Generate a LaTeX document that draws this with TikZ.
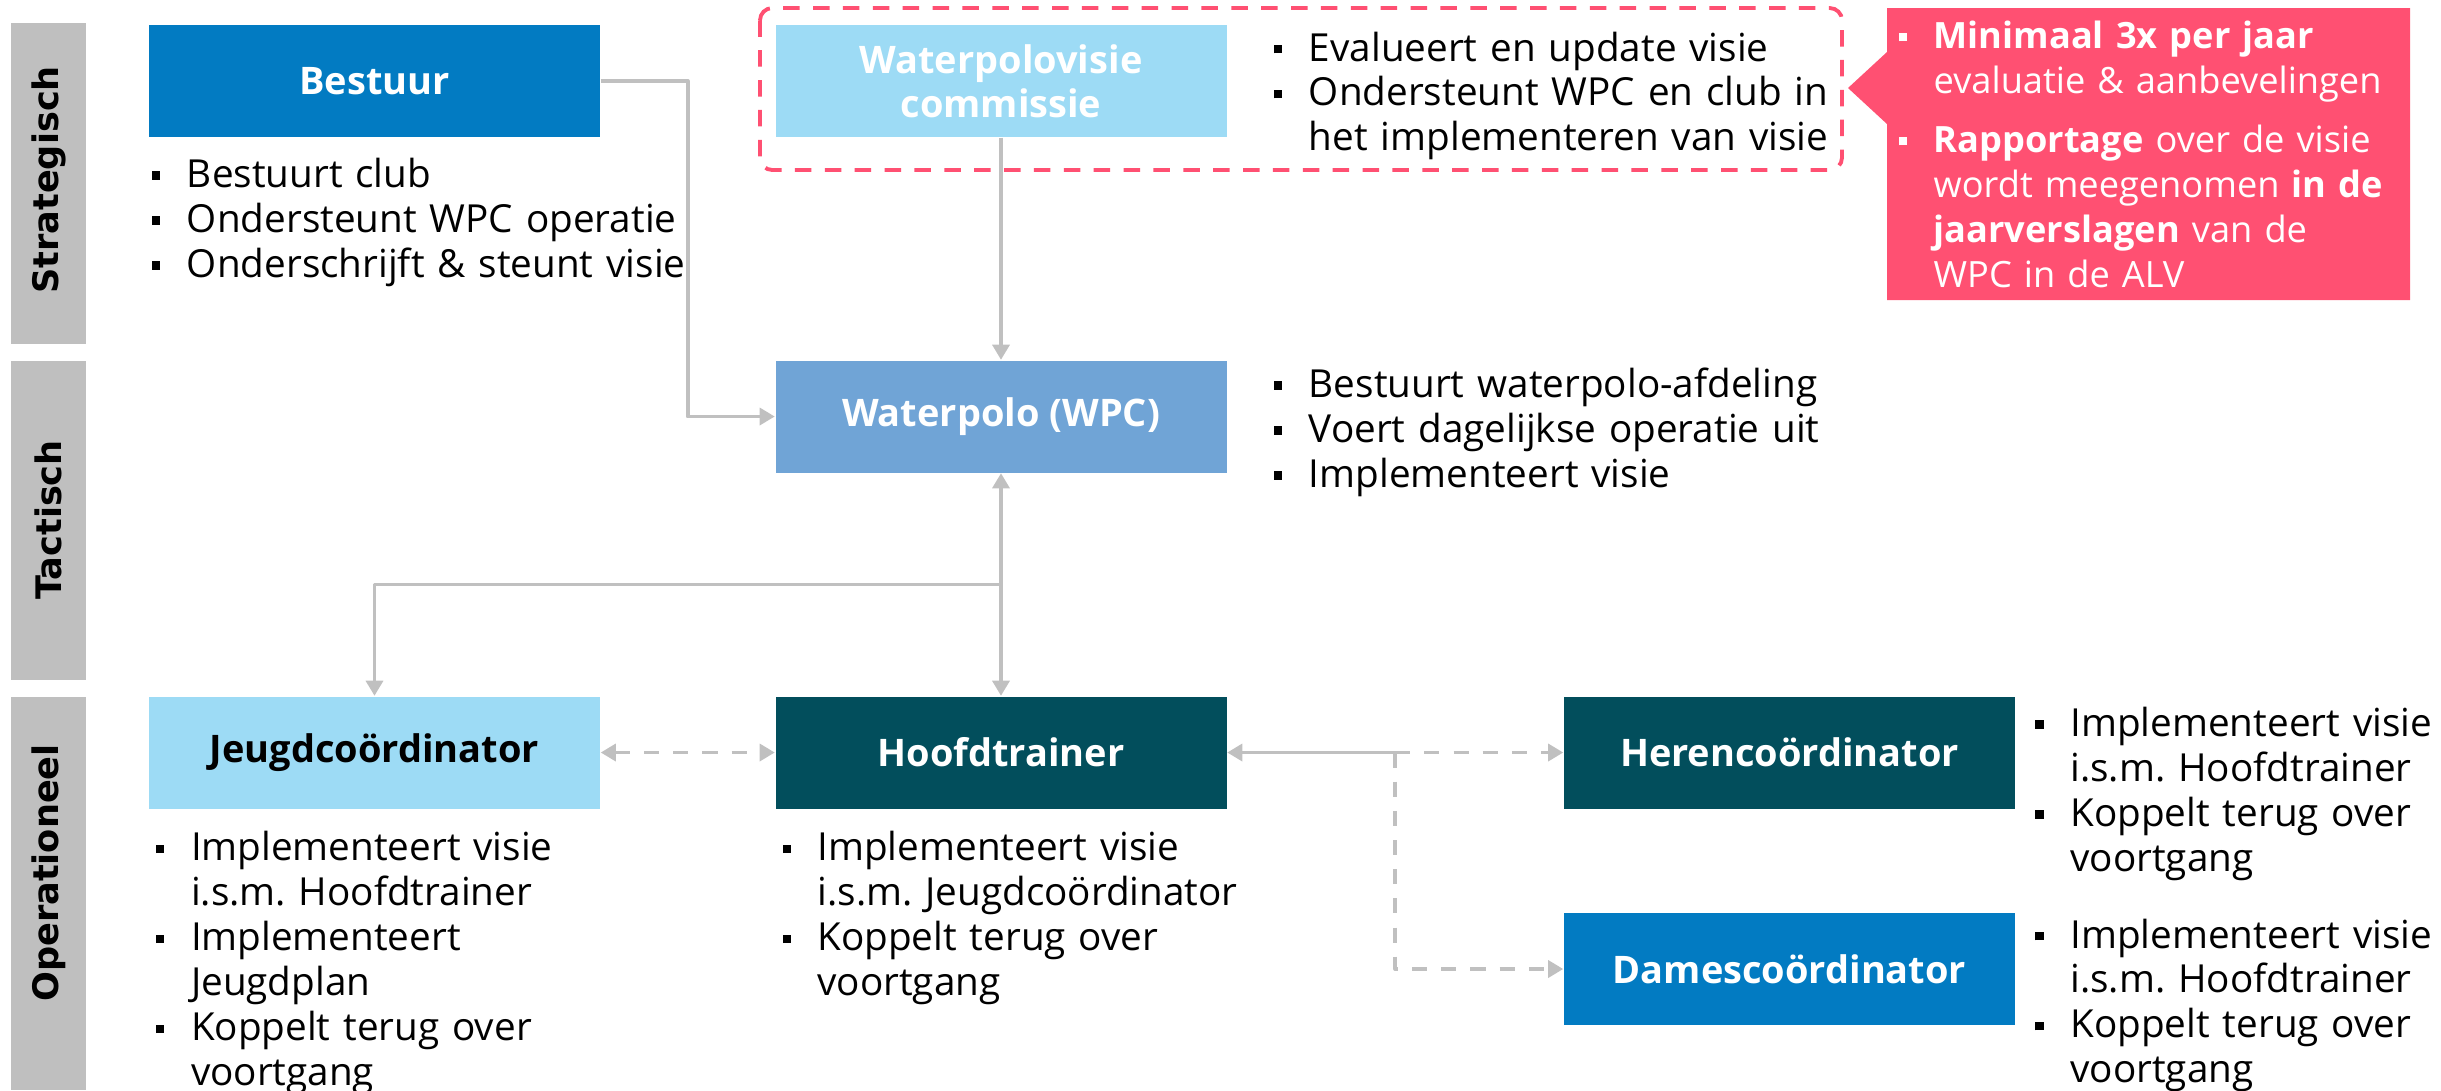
\documentclass[tikz,border=0pt]{standalone}
\usepackage{fontspec}
\setmainfont{Open Sans}
\newfontfamily\levelfont{DejaVu Sans}
\usetikzlibrary{calc}
\usetikzlibrary{positioning}
\usetikzlibrary{arrows.meta}
\tikzset{>={Triangle[length=4.3pt,width=4.8pt]}}
\definecolor{bluedark}{RGB}{2,123,194}
\definecolor{bluelight}{RGB}{157,219,245}
\definecolor{bluemid}{RGB}{112,164,214}
\definecolor{tealdark}{RGB}{2,78,92}
\definecolor{pinkred}{RGB}{255,80,114}
\definecolor{bargrey}{RGB}{191,191,191}
\definecolor{linegrey}{RGB}{192,192,192}
\tikzstyle{box}=[rectangle,minimum width=4.51cm,minimum height=1.12cm,inner sep=0,align=center,text=white,font=\fontsize{10.8}{12.5}\selectfont\bfseries]
\tikzstyle{lijst}=[inner sep=0,text width=6cm,align=left,font=\fontsize{11}{12.8}\selectfont]
\tikzstyle{conn}=[draw=linegrey,line width=1.05pt,line join=round]
\tikzstyle{conndash}=[conn,dash pattern=on 4.3pt off 4pt]
\tikzstyle{level}=[rotate=90,inner sep=0,font=\levelfont\fontsize{10}{12}\bfseries]
\newenvironment{punten}[1][0pt]{%
  \begin{list}{\rule[0.2em]{2.4pt}{2.4pt}}{%
    \setlength{\leftmargin}{0.35cm}\setlength{\labelwidth}{0.35cm}%
    \setlength{\labelsep}{0pt}\setlength{\itemsep}{#1}%
    \setlength{\topsep}{0pt}\setlength{\parsep}{0pt}\setlength{\partopsep}{0pt}%
    \renewcommand{\makelabel}[1]{##1\hfil}}\frenchspacing}%
  {\end{list}}

\begin{document}
\begin{tikzpicture}
  \useasboundingbox (0,0) rectangle (24.41,-10.90);
  \def\xl{3.745}
  \def\xm{10.01}
  \def\xr{17.895}

  % LEVELS
  \fill[bargrey] (0.11,-0.23) rectangle (0.86,-3.44);
  \fill[bargrey] (0.11,-3.61) rectangle (0.86,-6.80);
  \fill[bargrey] (0.11,-6.97) rectangle (0.86,-10.90);
  \node[level] (strat) at (0.485,-1.80) {Strategisch};
  \node[level] (tact) at (0.485,-5.20) {Tactisch};
  \node[level] (oper) at (0.485,-8.73) {Operationeel};

  % BOXES
  \node[box,fill=bluedark] (bestuur) at (\xl,-0.81) {Bestuur};
  \node[box,fill=bluelight] (commissie) at (\xm,-0.81) {Waterpolovisie\\commissie};
  \node[box,fill=bluemid] (wpc) at (\xm,-4.165) {Waterpolo (WPC)};
  \node[box,fill=bluelight,text=black] (jeugd) at (\xl,-7.525) {Jeugdco\"ordinator};
  \node[box,fill=tealdark] (hoofd) at (\xm,-7.525) {Hoofdtrainer};
  \node[box,fill=tealdark] (heren) at (\xr,-7.525) {Herenco\"ordinator};
  \node[box,fill=bluedark] (dames) at (\xr,-9.69) {Damesco\"ordinator};

  % TASKS
  \node[lijst,below right=0.04cm and 0.03cm of bestuur.south west] (bestuurtxt) {%
    \begin{punten}
      \item Bestuurt club
      \item Ondersteunt WPC operatie
      \item Onderschrijft \& steunt visie
    \end{punten}};
  \node[lijst,below right=-0.09cm and 0.46cm of commissie.north east] (commissietxt) {%
    \begin{punten}
      \item Evalueert en update visie
      \item Ondersteunt WPC en club in\\het implementeren van visie
    \end{punten}};
  \node[lijst,below right=-0.08cm and 0.46cm of wpc.north east] (wpctxt) {%
    \begin{punten}
      \item Bestuurt waterpolo-afdeling
      \item Voert dagelijkse operatie uit
      \item Implementeert visie
    \end{punten}};
  \node[lijst,below right=0.06cm and 0.07cm of jeugd.south west] (jeugdtxt) {%
    \begin{punten}
      \item Implementeert visie\\i.s.m. Hoofdtrainer
      \item Implementeert\\Jeugdplan
      \item Koppelt terug over\\voortgang
    \end{punten}};
  \node[lijst,below right=0.06cm and 0.07cm of hoofd.south west] (hoofdtxt) {%
    \begin{punten}
      \item Implementeert visie\\i.s.m. Jeugdco\"ordinator
      \item Koppelt terug over\\voortgang
    \end{punten}};
  \node[lijst,text width=4cm,below right=-0.05cm and 0.19cm of heren.north east] (herentxt) {%
    \begin{punten}
      \item Implementeert visie\\i.s.m. Hoofdtrainer
      \item Koppelt terug over\\voortgang
    \end{punten}};
  \node[lijst,text width=4cm,below right=-0.10cm and 0.19cm of dames.north east] (damestxt) {%
    \begin{punten}
      \item Implementeert visie\\i.s.m. Hoofdtrainer
      \item Koppelt terug over\\voortgang
    \end{punten}};

  % REVIEW
  \draw[pinkred,line width=1.1pt,dash pattern=on 4.7pt off 3.8pt,rounded corners=3.5pt]
    (7.60,-0.08) rectangle (18.42,-1.70);
  \fill[pinkred] (18.87,-0.08) -- (24.10,-0.08) -- (24.10,-3.00) -- (18.87,-3.00)
    -- (18.87,-1.24) -- (18.48,-0.88) -- (18.87,-0.52) -- cycle;
  \node[lijst,text=white,text width=5.4cm,anchor=north west,font=\fontsize{10.3}{12.8}\selectfont]
    (reviewtxt) at (18.98,-0.03) {%
    \begin{punten}[4pt]
      \item \textbf{Minimaal 3x per jaar}\\evaluatie \& aanbevelingen
      \item \textbf{Rapportage} over de visie\\wordt meegenomen \textbf{in de}\\\textbf{jaarverslagen} van de\\WPC in de ALV
    \end{punten}};

  % LINKS
  \draw[conn,->] (bestuur.east) -- ++(0.87,0) |- (wpc.west);
  \draw[conn,->] (commissie.south) -- (wpc.north);
  \draw[conn,<->] (wpc.south) -- (hoofd.north);
  \coordinate (split) at ($(wpc.south)!0.5!(hoofd.north)$);
  \draw[conn,->] (split) -| (jeugd.north);
  \draw[conndash,<->] (jeugd.east) -- (hoofd.west);
  \coordinate (fork) at ($(hoofd.east)+(1.68,0)$);
  \draw[conn,<-] (hoofd.east) -- (fork);
  \draw[conndash,->] (fork) -- (heren.west);
  \draw[conndash,->] (fork) |- (dames.west);
\end{tikzpicture}
\end{document}
